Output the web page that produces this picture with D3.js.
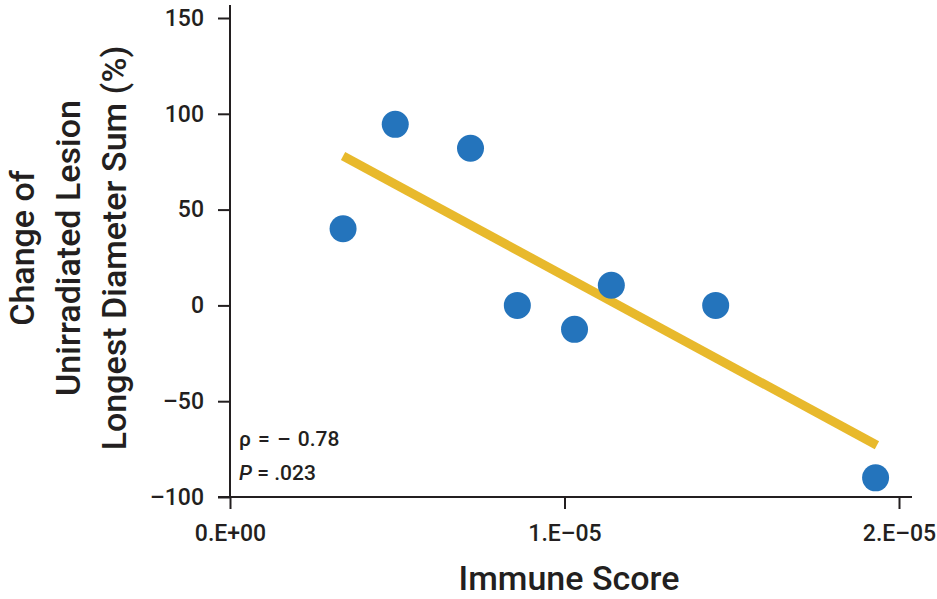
<!DOCTYPE html>
<html>
<head>
<meta charset="utf-8">
<script src="https://cdn.jsdelivr.net/npm/d3@7"></script>
<style>
  body { margin: 0; background: #fff; }
  text { font-family: "Roboto", "Liberation Sans", sans-serif; fill: #231f20; }
</style>
</head>
<body>
<script>
// values
const immuneScore = [0.338e-5, 0.494e-5, 0.719e-5, 0.859e-5, 1.03e-5, 1.14e-5, 1.452e-5, 1.93e-5];
const lesionChange = [40, 94.5, 82, 0, -12.5, 10.5, 0, -90];
const fitX = [0.338e-5, 1.934e-5];
const fitY = [78, -73];
const yTicks = [150, 100, 50, 0, -50, -100];
const xTicks = [0, 1e-5, 2e-5];
const xTickLabels = ["0.E+00", "1.E\u201305", "2.E\u201305"];
const yLabelLines = ["Change of", "Unirradiated Lesion", "Longest Diameter Sum (%)"];

const svg = d3.select("body").append("svg")
    .attr("width", 937)
    .attr("height", 599);

const x = d3.scaleLinear().domain([0, 2e-5]).range([230, 899]);
const y = d3.scaleLinear().domain([-100, 150]).range([497, 18]);

// axes
const yAxis = svg.append("g")
    .attr("transform", "translate(230,0)")
    .call(d3.axisLeft(y).tickValues(yTicks).tickSize(12).tickPadding(14)
        .tickFormat(d => d < 0 ? "\u2013" + Math.abs(d) : d));
yAxis.select(".domain").attr("d", "M0,5V497");
yAxis.selectAll("line, path").attr("stroke", "#231f20").attr("stroke-width", 2);
yAxis.selectAll("text")
    .style("font-size", "23px").style("font-weight", 500)
    .attr("fill", "#231f20");

const xAxis = svg.append("g")
    .attr("transform", "translate(0,497)")
    .call(d3.axisBottom(x).tickValues(xTicks).tickSize(12).tickPadding(16)
        .tickFormat((d, i) => xTickLabels[i]));
xAxis.select(".domain").attr("d", "M218,0H912");
xAxis.selectAll("line, path").attr("stroke", "#231f20").attr("stroke-width", 2);
xAxis.selectAll("text")
    .style("font-size", "23px").style("font-weight", 500)
    .attr("fill", "#231f20");

// trend line
svg.append("line")
    .attr("x1", x(fitX[0])).attr("y1", y(fitY[0]))
    .attr("x2", x(fitX[1])).attr("y2", y(fitY[1]))
    .attr("stroke", "#e8b92c")
    .attr("stroke-width", 9);

// points
svg.selectAll("circle")
    .data(immuneScore)
    .enter().append("circle")
    .attr("cx", d => x(d))
    .attr("cy", (d, i) => y(lesionChange[i]))
    .attr("r", 13.5)
    .attr("fill", "#2474bc");

// stats
svg.append("text")
    .attr("x", 239).attr("y", 446)
    .style("font-size", "21px").style("font-weight", 500)
    .style("word-spacing", "2px")
    .text("\u03c1 = \u2013 0.78");
const pText = svg.append("text")
    .attr("x", 239).attr("y", 480)
    .style("font-size", "21px").style("font-weight", 500);
pText.append("tspan").style("font-style", "italic").text("P");
pText.append("tspan").text(" = .023");

// axis titles
svg.append("text")
    .attr("x", 569).attr("y", 590)
    .attr("text-anchor", "middle")
    .style("font-size", "34px").style("font-weight", 500)
    .text("Immune Score");

const yTitle = svg.append("text")
    .attr("transform", "translate(0,248) rotate(-90)")
    .attr("text-anchor", "middle")
    .style("font-size", "34px").style("font-weight", 500);
yTitle.selectAll("tspan")
    .data(yLabelLines)
    .enter().append("tspan")
    .attr("x", 0)
    .attr("y", (d, i) => 34 + i * 46)
    .text(d => d);
</script>
</body>
</html>
